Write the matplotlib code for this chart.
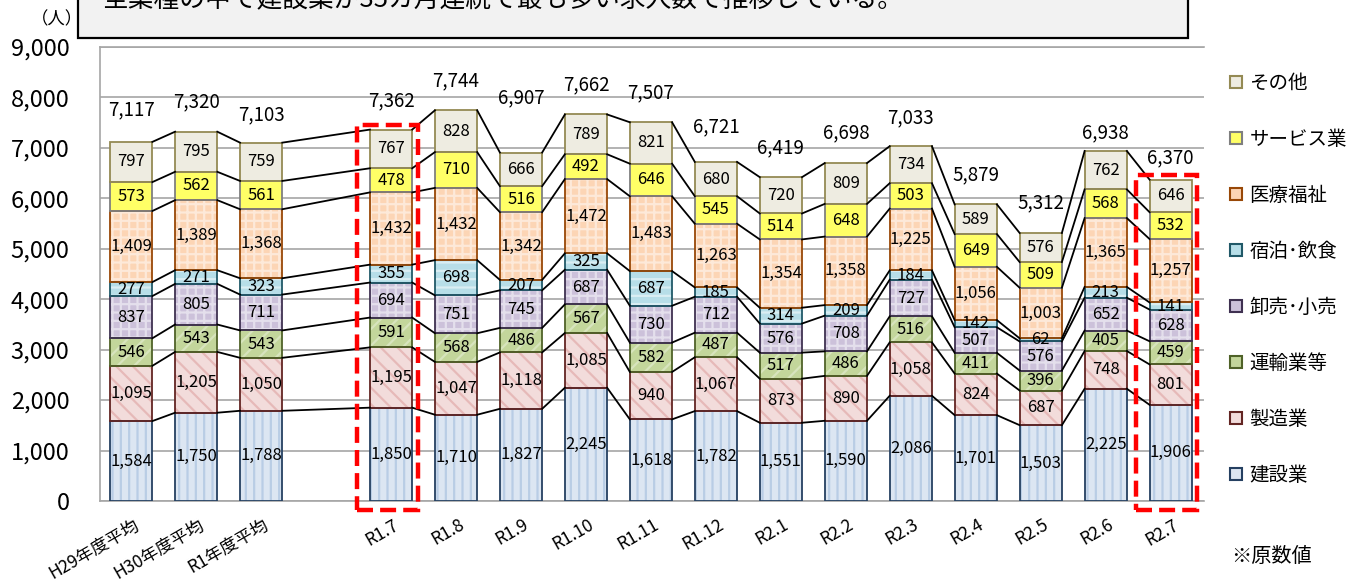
import numpy as np
import matplotlib.pyplot as plt
import matplotlib.transforms as mtransforms
from matplotlib.patches import Patch, Rectangle

plt.rcParams['font.family'] = ['Noto Sans CJK JP', 'DejaVu Sans']
plt.rcParams['hatch.linewidth'] = 1.6

# --- data ---
months = ['H29年度平均', 'H30年度平均', 'R1年度平均', 'R1.7', 'R1.8', 'R1.9', 'R1.10',
          'R1.11', 'R1.12', 'R2.1', 'R2.2', 'R2.3', 'R2.4', 'R2.5', 'R2.6', 'R2.7']
slots = [0, 1, 2, 4, 5, 6, 7, 8, 9, 10, 11, 12, 13, 14, 15, 16]

industries = ['建設業', '製造業', '運輸業等', '卸売･小売', '宿泊･飲食', '医療福祉', 'サービス業', 'その他']
kensetsu = [1584, 1750, 1788, 1850, 1710, 1827, 2245, 1618, 1782, 1551, 1590, 2086, 1701, 1503, 2225, 1906]
seizo = [1095, 1205, 1050, 1195, 1047, 1118, 1085, 940, 1067, 873, 890, 1058, 824, 687, 748, 801]
unyu = [546, 543, 543, 591, 568, 486, 567, 582, 487, 517, 486, 516, 411, 396, 405, 459]
oroshi = [837, 805, 711, 694, 751, 745, 687, 730, 712, 576, 708, 727, 507, 576, 652, 628]
shukuhaku = [277, 271, 323, 355, 698, 207, 325, 687, 185, 314, 209, 184, 142, 62, 213, 141]
iryo = [1409, 1389, 1368, 1432, 1432, 1342, 1472, 1483, 1263, 1354, 1358, 1225, 1056, 1003, 1365, 1257]
service = [573, 562, 561, 478, 710, 516, 492, 646, 545, 514, 648, 503, 649, 509, 568, 532]
sonota = [797, 795, 759, 767, 828, 666, 789, 821, 680, 720, 809, 734, 589, 576, 762, 646]
totals = [7117, 7320, 7103, 7362, 7744, 6907, 7662, 7507, 6721, 6419, 6698, 7033, 5879, 5312, 6938, 6370]
highlight = ['R1.7', 'R2.7']

series = [kensetsu, seizo, unyu, oroshi, shukuhaku, iryo, service, sonota]

# fill, hatch colour, hatch, edge
styles = [
    ('#dce6f2', '#b9cde5', '||', '#254061'),
    ('#f2dcdb', '#e6b9b8', '\\\\', '#632523'),
    ('#c3d69b', '#d7e4bd', '//', '#4f6228'),
    ('#ccc1da', '#e4dfec', '++', '#3f3151'),
    ('#b7dee8', '#daeef3', '--', '#215968'),
    ('#fcd5b5', '#fde9d9', '++', '#984807'),
    ('#ffff66', '#ffff99', '', '#7f7f7f'),
    ('#eeece1', '#eeece1', '', '#948a54'),
]

fig = plt.figure(figsize=(13.61, 5.81), dpi=100)
ax = fig.add_axes([0.0735, 0.1377, 0.8115, 0.7815])

x = np.array(slots, dtype=float)
w = 0.65
bottom = np.zeros(len(x))
tops = []
for vals, (fc, hc, hatch, ec) in zip(series, styles):
    vals = np.array(vals, dtype=float)
    ax.bar(x, vals, w, bottom=bottom, color=fc, edgecolor=hc, hatch=hatch, linewidth=0, zorder=3)
    ax.bar(x, vals, w, bottom=bottom, fill=False, edgecolor=ec, linewidth=1.3, zorder=4)
    for xi, b, v in zip(x, bottom, vals):
        ax.text(xi, b + v / 2, f'{int(v):,}', ha='center', va='center', fontsize=12, zorder=6)
    bottom = bottom + vals
    tops.append(bottom.copy())

# connector lines between neighbouring bars
for t in tops:
    for i in range(len(x) - 1):
        ax.plot([x[i] + w / 2, x[i + 1] - w / 2], [t[i], t[i + 1]], color='black', lw=1.3, zorder=5)

# total labels above bars (pixel offsets)
offs = [32, 30, 28, 29, 30, 55, 30, 29, 35, 29, 30, 28, 30, 30, 18, 22]
for xi, t, tot, o in zip(x, tops[-1], totals, offs):
    ax.annotate(f'{tot:,}', (xi, t), xytext=(0, o), textcoords='offset pixels',
                ha='center', va='center', fontsize=13.5)

# red dashed frames
for name in highlight:
    i = months.index(name)
    r = Rectangle((x[i] - 0.53, -180), 0.94, tops[-1][i] + 280, fill=False,
                  edgecolor='#ff0000', lw=3.2, ls=(0, (3.6, 1.6)), clip_on=False, zorder=7)
    ax.add_patch(r)

ax.set_xlim(-0.48, 16.52)
ax.set_ylim(0, 9000)
ax.set_yticks(range(0, 9001, 1000))
ax.set_yticklabels([f'{v:,}' for v in range(0, 9001, 1000)], fontsize=17)
ax.yaxis.grid(True, color='#a6a6a6', lw=1.2, zorder=0)
ax.set_axisbelow(True)
for s in ['left', 'top', 'bottom']:
    ax.spines[s].set_color('#a6a6a6')
    ax.spines[s].set_linewidth(1.2)
ax.spines['right'].set_visible(False)
ax.tick_params(length=0)
ax.tick_params(axis='y', pad=22)

ax.set_xticks(x)
ax.set_xticklabels(months, rotation=30, ha='right', rotation_mode='anchor', fontsize=12.5)
shift = mtransforms.ScaledTranslation(2 / 100, -10 / 100, fig.dpi_scale_trans)
for lab in ax.get_xticklabels():
    lab.set_transform(lab.get_transform() + shift)

# legend
handles = [Patch(facecolor=fc, edgecolor=ec, linewidth=1.5) for fc, hc, hatch, ec in styles]
fig.legend(handles[::-1], industries[::-1], loc='upper left', bbox_to_anchor=(0.898, 0.888),
           frameon=False, fontsize=14, handlelength=0.6, handleheight=0.6,
           handletextpad=0.4, labelspacing=1.8, borderaxespad=0)

# title box, cut at the top edge as in the original
fig.patches.append(Rectangle((0.0573, 0.9346), 0.8156, 0.2, transform=fig.transFigure,
                             facecolor='#f2f2f2', edgecolor='black', lw=1.6, zorder=1))
fig.text(0.369, 1.0, '全業種の中で建設業が35カ月連続で最も多い求人数で推移している。',
         ha='center', va='center', fontsize=18.5, zorder=2)

fig.text(0.042, 0.966, '（人）', ha='center', va='center', fontsize=12.5)
fig.text(0.934, 0.043, '※原数値', ha='center', va='center', fontsize=14.5)

fig.savefig('out.png', dpi=100)
